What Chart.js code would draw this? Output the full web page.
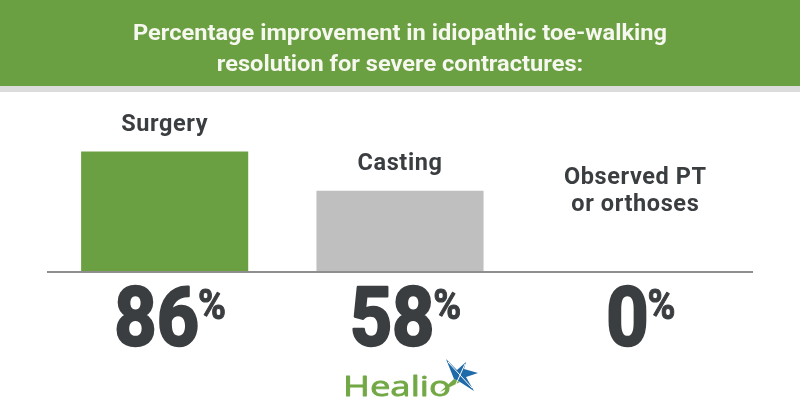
<!DOCTYPE html>
<html>
<head>
<meta charset="utf-8">
<script src="https://cdn.jsdelivr.net/npm/chart.js@4.4.0/dist/chart.umd.min.js"></script>
<style>
  html, body { margin: 0; padding: 0; background: #fff; }
  #wrap { width: 800px; height: 420px; position: relative; }
</style>
</head>
<body>
<div id="wrap"><canvas id="chart"></canvas></div>
<script>
// dados do gráfico
const titleLines = ['Percentage improvement in idiopathic toe-walking', 'resolution for severe contractures:'];
const categories = [['Surgery'], ['Casting'], ['Observed PT', 'or orthoses']];
const improvement = [86, 58, 0];

const DARK = '#3b3e40';
const GREEN = '#6a9f42';

// texto comprimido na horizontal (fonte condensada não está instalada)
function narrowText(ctx, text, x, y, sx) {
    ctx.save();
    ctx.translate(x, y);
    ctx.scale(sx, 1);
    ctx.fillText(text, 0, 0);
    ctx.restore();
}

// desenha cabeçalho, rótulos, valores e logo
const infographic = {
    id: 'infographic',
    beforeDraw(chart) {
        const ctx = chart.ctx;
        ctx.save();
        ctx.fillStyle = GREEN;
        ctx.fillRect(0, 0, chart.width, 86);
        ctx.fillStyle = '#dcdcdc';
        ctx.fillRect(0, 86, chart.width, 6);
        ctx.fillStyle = '#f6f7ef';
        ctx.font = 'bold 22.5px Roboto, sans-serif';
        ctx.textAlign = 'center';
        ctx.textBaseline = 'alphabetic';
        const sx = 534 / ctx.measureText(titleLines[0]).width;
        titleLines.forEach((line, i) => narrowText(ctx, line, chart.width / 2, 39.5 + i * 31.7, sx));
        ctx.restore();
    },
    afterDatasetsDraw(chart) {
        const ctx = chart.ctx;
        const area = chart.chartArea;
        const y0 = chart.scales.y.getPixelForValue(0);
        ctx.save();

        // linha de base
        ctx.strokeStyle = '#8e8e8e';
        ctx.lineWidth = 2;
        ctx.beginPath();
        ctx.moveTo(area.left, y0);
        ctx.lineTo(area.right, y0);
        ctx.stroke();

        ctx.fillStyle = DARK;
        ctx.strokeStyle = DARK;
        ctx.textBaseline = 'alphabetic';
        chart.getDatasetMeta(0).data.forEach((bar, i) => {
            // nome da categoria acima da barra
            ctx.font = 'bold 23.5px Roboto, sans-serif';
            ctx.letterSpacing = '0.6px';
            ctx.textAlign = 'center';
            const lines = categories[i];
            let base = Math.min(bar.y - 21, y0 - 61);
            for (let j = lines.length - 1; j >= 0; j--) {
                ctx.fillText(lines[j], bar.x, base);
                base -= 26.7;
            }
            ctx.letterSpacing = '0px';

            // valor grande abaixo da linha
            const num = String(improvement[i]);
            const sx = 0.9;
            ctx.font = 'bold 82px Roboto, sans-serif';
            const w1 = ctx.measureText(num).width * sx;
            ctx.font = 'bold 42px Roboto, sans-serif';
            const w2 = ctx.measureText('%').width * sx;
            const x = bar.x + 6 - (w1 + w2) / 2;
            ctx.textAlign = 'left';
            ctx.lineWidth = 2.5;
            ctx.lineJoin = 'round';
            ctx.save();
            ctx.translate(x, y0 + 72.5);
            ctx.scale(sx, 1);
            ctx.font = 'bold 82px Roboto, sans-serif';
            ctx.fillText(num, 0, 0);
            ctx.strokeText(num, 0, 0);
            ctx.restore();
            ctx.save();
            ctx.translate(x + w1 - 1, y0 + 46.5);
            ctx.scale(sx, 1);
            ctx.font = 'bold 42px Roboto, sans-serif';
            ctx.lineWidth = 1;
            ctx.fillText('%', 0, 0);
            ctx.strokeText('%', 0, 0);
            ctx.restore();
        });

        // logo Healio
        ctx.font = '28px "Open Sans", Lato, sans-serif';
        ctx.textAlign = 'left';
        ctx.fillStyle = '#72a845';
        ctx.strokeStyle = '#72a845';
        ctx.lineWidth = 0.8;
        const lx = 108 / ctx.measureText('Healio').width;
        ctx.save();
        ctx.translate(343, 396);
        ctx.scale(lx, 1);
        ctx.fillText('Healio', 0, 0);
        ctx.strokeText('Healio', 0, 0);
        ctx.restore();

        // estrela
        const cx = 459, cy = 377;
        const outer = [[446, 359], [466, 362], [478, 373], [474, 391]];
        const inner = [[457, 370], [464, 369], [466, 377], [460, 382]];
        ctx.fillStyle = '#1f6aa8';
        ctx.beginPath();
        ctx.moveTo(cx - 5, cy + 2);
        for (let k = 0; k < 4; k++) {
            ctx.lineTo(outer[k][0], outer[k][1]);
            ctx.lineTo(inner[k][0], inner[k][1]);
        }
        ctx.closePath();
        ctx.fill();
        ctx.fillStyle = '#72a845';
        ctx.beginPath();
        ctx.moveTo(cx - 5, cy + 2);
        ctx.lineTo(460, 382);
        ctx.lineTo(440, 392);
        ctx.closePath();
        ctx.fill();
        ctx.strokeStyle = '#ffffff';
        ctx.lineWidth = 1;
        ctx.beginPath();
        ctx.moveTo(448, 362);
        ctx.lineTo(472, 388);
        ctx.moveTo(465, 364);
        ctx.lineTo(456, 384);
        ctx.stroke();

        ctx.restore();
    }
};

document.addEventListener('DOMContentLoaded', () => {
    new Chart(document.getElementById('chart'), {
        type: 'bar',
        data: {
            labels: categories.map(c => c.join(' ')),
            datasets: [{
                data: improvement,
                backgroundColor: [GREEN, '#bfbfbf', '#bfbfbf'],
                borderWidth: 0,
                barPercentage: 0.71,
                categoryPercentage: 1
            }]
        },
        options: {
            responsive: true,
            maintainAspectRatio: false,
            animation: false,
            layout: { padding: { top: 132, bottom: 148, left: 47, right: 47 } },
            scales: {
                x: { display: false },
                y: { display: false, min: 0, max: 100 }
            },
            plugins: {
                legend: { display: false },
                tooltip: { enabled: false }
            }
        },
        plugins: [infographic]
    });
});
</script>
</body>
</html>
